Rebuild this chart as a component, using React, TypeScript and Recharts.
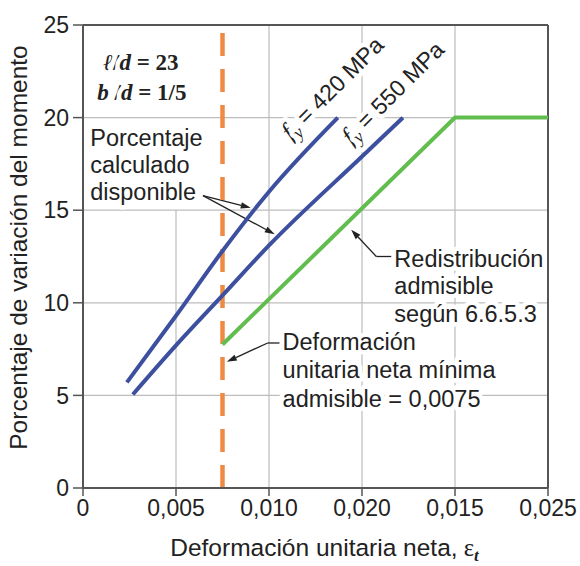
import React from "react";
import {
  LineChart,
  Line,
  XAxis,
  YAxis,
  CartesianGrid,
  ReferenceLine,
  ReferenceDot,
} from "recharts";

// values
const fy420X = [0.00236, 0.005, 0.0075, 0.01, 0.0137];
const fy420Y = [5.7, 9.3, 12.8, 16.0, 20.0];
const fy550X = [0.00268, 0.005, 0.0075, 0.01, 0.015, 0.0172];
const fy550Y = [5.05, 7.7, 10.4, 13.1, 17.9, 20.0];
const allowedX = [0.0075, 0.02, 0.025];
const allowedY = [7.75, 20, 20];
const minStrain = 0.0075;

const xTicks = [0, 0.005, 0.01, 0.015, 0.02, 0.025];
const xTickLabels = ["0", "0,005", "0,010", "0,020", "0,015", "0,025"];
const yTicks = [0, 5, 10, 15, 20, 25];

const zip = (xs: number[], ys: number[]) => xs.map((x, i) => ({ x, y: ys[i] }));
const fy420 = zip(fy420X, fy420Y);
const fy550 = zip(fy550X, fy550Y);
const allowed = zip(allowedX, allowedY);

const SANS = "'Liberation Sans', Arial, Helvetica, sans-serif";
const SERIF = "'Liberation Serif', 'Times New Roman', serif";
const INK = "#222";
const GRID = "#bdbdbd";
const FRAME = "#555";

const halo = {
  stroke: "#fff",
  strokeWidth: 9,
  strokeLinejoin: "round" as const,
  paintOrder: "stroke" as const,
};

const Note = ({ cx, cy, lines, lh = 27 }: any) => (
  <text x={cx} y={cy} fontSize={23.5} fontFamily={SANS} fill={INK} {...halo}>
    {lines.map((l: string, i: number) => (
      <tspan key={i} x={cx} dy={i === 0 ? 0 : lh}>
        {l}
      </tspan>
    ))}
  </text>
);

const Ratio = ({ cx, cy, sym, val }: any) => (
  <text x={cx} y={cy} fontSize={23} fontFamily={SERIF} fontWeight="bold" fill={INK} {...halo}>
    <tspan fontStyle="italic">{sym}</tspan>
    <tspan>/</tspan>
    <tspan fontStyle="italic">d</tspan>
    <tspan>{" = " + val}</tspan>
  </text>
);

const FyLabel = ({ cx, cy, value }: any) => (
  <text
    x={cx}
    y={cy}
    transform={`rotate(-45, ${cx}, ${cy})`}
    fontSize={23}
    fontFamily={SANS}
    fill={INK}
    {...halo}
  >
    <tspan fontFamily={SERIF} fontStyle="italic" fontSize={25}>f</tspan>
    <tspan fontFamily={SERIF} fontStyle="italic" fontSize={18} dy={5}>y</tspan>
    <tspan dy={-5}>{" = " + value}</tspan>
  </text>
);

const Arrow = ({ x1, y1, x2, y2, head = true }: any) => {
  const a = Math.atan2(y2 - y1, x2 - x1);
  const len = 10;
  const w = 3.2;
  const bx = x2 - len * Math.cos(a);
  const by = y2 - len * Math.sin(a);
  const px = -Math.sin(a) * w;
  const py = Math.cos(a) * w;
  return (
    <g>
      <line x1={x1} y1={y1} x2={head ? bx : x2} y2={head ? by : y2} stroke={INK} strokeWidth={1.3} />
      {head && (
        <polygon
          points={`${x2},${y2} ${bx + px},${by + py} ${bx - px},${by - py}`}
          fill={INK}
        />
      )}
    </g>
  );
};

export default function App() {
  return (
    <div style={{ position: "absolute", left: 0, top: 0, background: "#fff" }}>
      <LineChart
        width={580}
        height={566}
        margin={{ top: 25, right: 32, bottom: 0, left: 0 }}
      >
        <CartesianGrid vertical={false} stroke={GRID} strokeWidth={1.2} />
        <ReferenceLine segment={[{ x: 0.005, y: 0 }, { x: 0.005, y: 15 }]} stroke={GRID} strokeWidth={1.2} />
        <ReferenceLine x={0.01} stroke={GRID} strokeWidth={1.2} />
        <ReferenceLine x={0.015} stroke={GRID} strokeWidth={1.2} />
        <ReferenceLine x={0.02} stroke={GRID} strokeWidth={1.2} />
        <ReferenceLine y={25} stroke={FRAME} strokeWidth={2} />
        <ReferenceLine x={0.025} stroke={FRAME} strokeWidth={2} />

        <XAxis
          type="number"
          dataKey="x"
          domain={[0, 0.025]}
          ticks={xTicks}
          tickFormatter={(_v: number, i: number) => xTickLabels[i]}
          height={78}
          axisLine={{ stroke: FRAME, strokeWidth: 2 }}
          tickLine={{ stroke: FRAME, strokeWidth: 1.5 }}
          tickSize={8}
          tickMargin={4}
          tick={{ fontSize: 23, fontFamily: SANS, fill: INK }}
          interval={0}
          allowDataOverflow
          label={{
            content: (p: any) => {
              const vb = p.viewBox;
              const x = vb.x + vb.width / 2 + 9;
              const y = vb.y + 67.5;
              return (
                <text x={x} y={y} textAnchor="middle" fontSize={24.5} fontFamily={SANS} fill={INK}>
                  Deformación unitaria neta,
                  <tspan fontFamily={SERIF}>{" ε"}</tspan>
                  <tspan fontFamily={SERIF} fontStyle="italic" fontWeight="bold" fontSize={17} dy={5}>t</tspan>
                </text>
              );
            },
          }}
        />
        <YAxis
          type="number"
          domain={[0, 25]}
          ticks={yTicks}
          width={83}
          axisLine={{ stroke: FRAME, strokeWidth: 2 }}
          tickLine={{ stroke: FRAME, strokeWidth: 1.5 }}
          tickSize={10}
          tickMargin={4}
          tick={{ fontSize: 23, fontFamily: SANS, fill: INK }}
          interval={0}
          label={{
            content: (p: any) => {
              const vb = p.viewBox;
              const x = vb.x + 27;
              const y = vb.y + vb.height / 2 - 9;
              return (
                <text
                  x={x}
                  y={y}
                  transform={`rotate(-90, ${x}, ${y})`}
                  textAnchor="middle"
                  fontSize={24.5}
                  fontFamily={SANS}
                  fill={INK}
                >
                  Porcentaje de variación del momento
                </text>
              );
            },
          }}
        />

        {/* text notes */}
        <ReferenceDot x={0.00109} y={22.59} r={0} shape={(p: any) => <Ratio {...p} sym="ℓ" val="23" />} />
        <ReferenceDot x={0.00077} y={20.97} r={0} shape={(p: any) => <Ratio {...p} sym="b " val="1/5" />} />
        <ReferenceDot
          x={0.00039}
          y={18.44}
          r={0}
          shape={(p: any) => <Note {...p} lh={26.7} lines={["Porcentaje", "calculado", "disponible"]} />}
        />
        <ReferenceDot
          x={0.01674}
          y={11.95}
          r={0}
          shape={(p: any) => <Note {...p} lh={27.5} lines={["Redistribución", "admisible", "según 6.6.5.3"]} />}
        />
        <ReferenceDot
          x={0.01073}
          y={7.47}
          r={0}
          shape={(p: any) => (
            <Note {...p} lh={28.5} lines={["Deformación", "unitaria neta mínima", "admisible = 0,0075"]} />
          )}
        />
        <ReferenceDot x={0.01118} y={18.75} r={0} shape={(p: any) => <FyLabel {...p} value="420 MPa" />} />
        <ReferenceDot x={0.01443} y={18.5} r={0} shape={(p: any) => <FyLabel {...p} value="550 MPa" />} />

        {/* pointers */}
        <ReferenceLine segment={[{ x: 0.00645, y: 15.79 }, { x: 0.00902, y: 15.13 }]} shape={(p: any) => <Arrow {...p} />} />
        <ReferenceLine segment={[{ x: 0.00645, y: 15.79 }, { x: 0.01031, y: 13.7 }]} shape={(p: any) => <Arrow {...p} />} />
        <ReferenceLine segment={[{ x: 0.01658, y: 12.5 }, { x: 0.01577, y: 12.5 }]} shape={(p: any) => <Arrow {...p} head={false} />} />
        <ReferenceLine segment={[{ x: 0.01577, y: 12.5 }, { x: 0.01442, y: 13.95 }]} shape={(p: any) => <Arrow {...p} />} />
        <ReferenceLine segment={[{ x: 0.01057, y: 7.83 }, { x: 0.00993, y: 7.83 }]} shape={(p: any) => <Arrow {...p} head={false} />} />
        <ReferenceLine segment={[{ x: 0.00993, y: 7.83 }, { x: 0.00773, y: 6.82 }]} shape={(p: any) => <Arrow {...p} />} />

        <ReferenceLine x={minStrain} stroke="#ef8a45" strokeWidth={4.5} strokeDasharray="23 13" />

        <Line data={fy420} dataKey="y" type="monotone" stroke="#3d4f9f" strokeWidth={4} dot={false} isAnimationActive={false} />
        <Line data={fy550} dataKey="y" type="monotone" stroke="#3d4f9f" strokeWidth={4} dot={false} isAnimationActive={false} />
        <Line data={allowed} dataKey="y" type="linear" stroke="#62bd4f" strokeWidth={4} dot={false} isAnimationActive={false} />
      </LineChart>
    </div>
  );
}
